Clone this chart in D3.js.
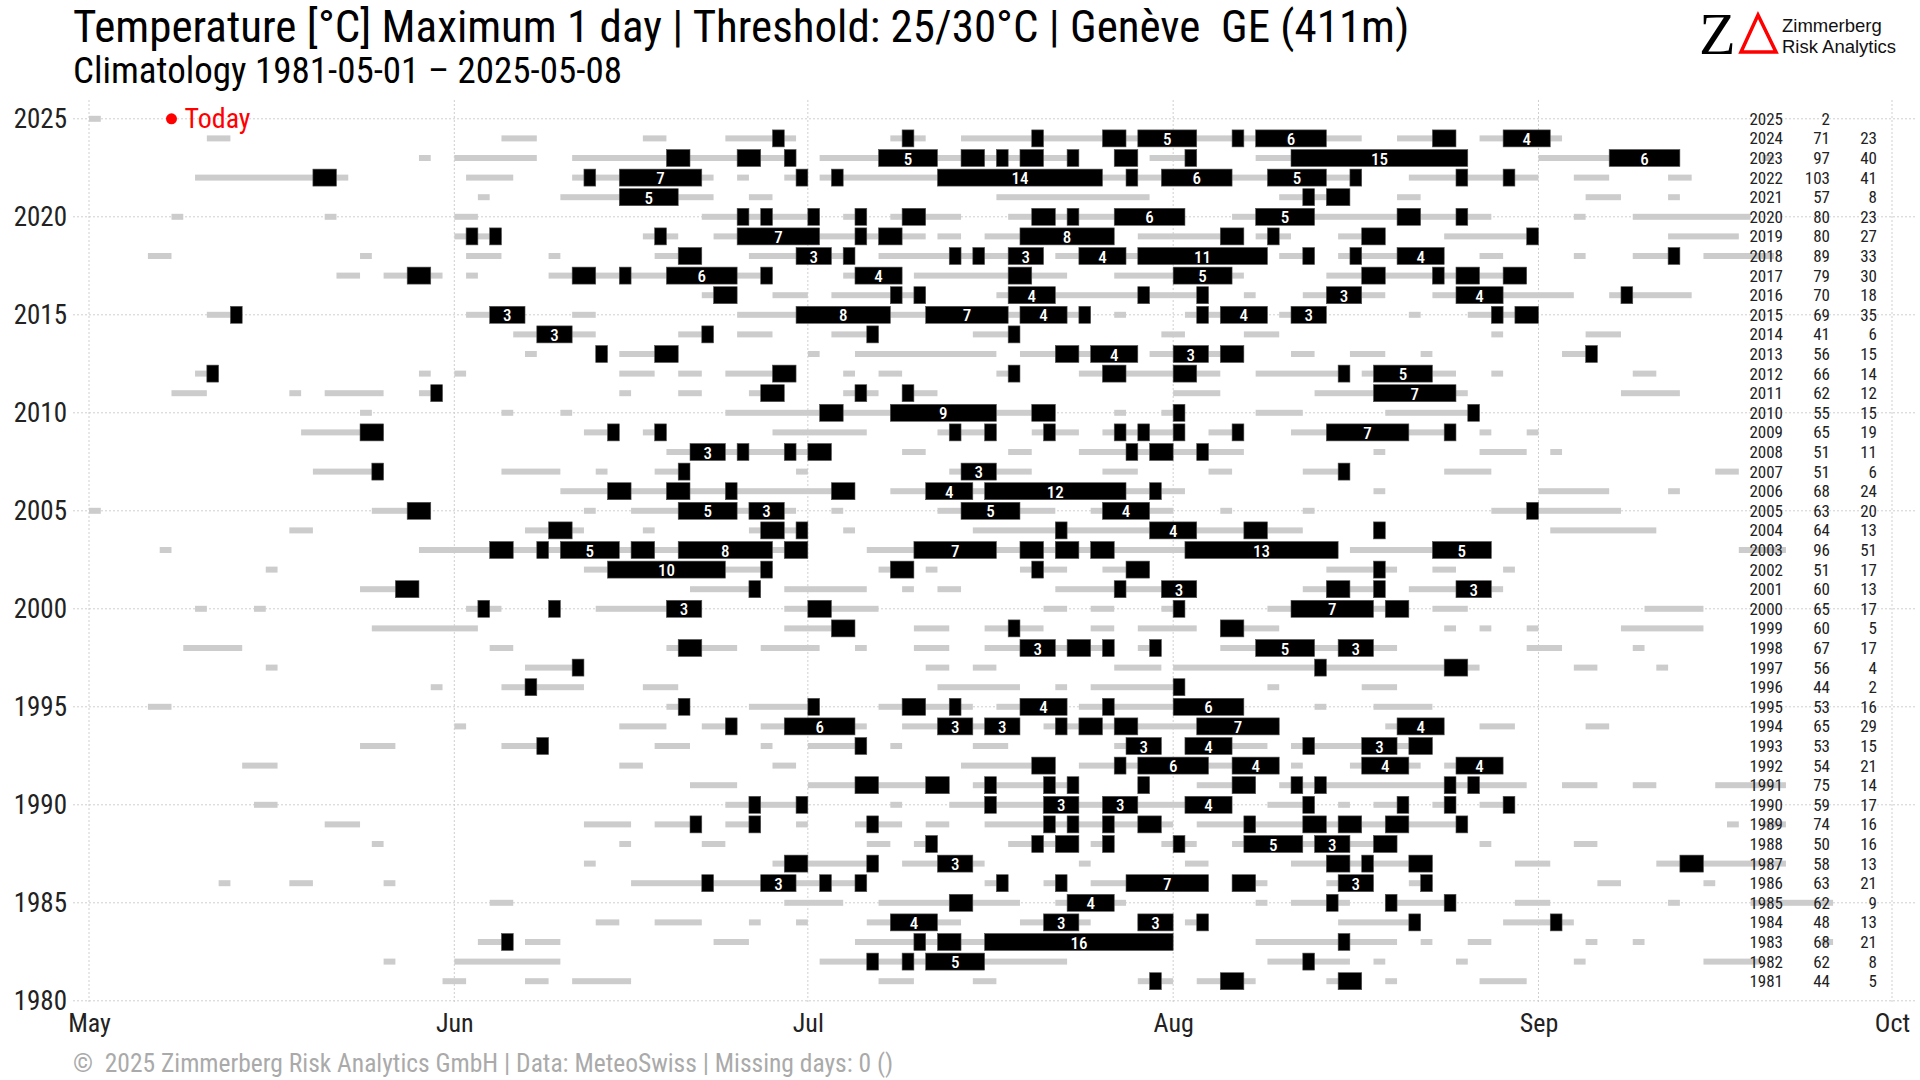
<!DOCTYPE html>
<html>
<head>
<meta charset="utf-8">
<script src="https://cdn.jsdelivr.net/npm/d3@7"></script>
<style>
  html, body { margin: 0; padding: 0; background: #fff; }
  svg { display: block; }
  text.pre { white-space: pre; }
</style>
</head>
<body>
<svg id="chart" width="1920" height="1080"></svg>
<script>
// ---------- data ----------
const titleText = "Temperature [°C] Maximum 1 day | Threshold: 25/30°C | Genève  GE (411m)";
const subtitleText = "Climatology 1981-05-01 \u2013 2025-05-08";
const footerText = "\u00A9  2025 Zimmerberg Risk Analytics GmbH | Data: MeteoSwiss | Missing days: 0 ()";

// day offsets counted from 1 May
const monthStarts = [0, 31, 61, 92, 123, 153];
const monthLabels = ["May", "Jun", "Jul", "Aug", "Sep", "Oct"];
const yearTicks = [1980, 1985, 1990, 1995, 2000, 2005, 2010, 2015, 2020, 2025];
const todayYear = 2025;
const todayDay = 7; // 8 May

const tableYears = [2025,2024,2023,2022,2021,2020,2019,2018,2017,2016,2015,2014,2013,2012,2011,2010,2009,2008,2007,2006,2005,2004,2003,2002,2001,2000,1999,1998,1997,1996,1995,1994,1993,1992,1991,1990,1989,1988,1987,1986,1985,1984,1983,1982,1981];
const days25 = [2,71,97,103,57,80,80,89,79,70,69,41,56,66,62,55,65,51,51,68,63,64,96,51,60,65,60,67,56,44,53,65,53,54,75,59,74,50,58,63,62,48,68,62,44];
const days30 = [null,23,40,41,8,23,27,33,30,18,35,6,15,14,12,15,19,11,6,24,20,13,51,17,13,17,5,17,4,2,16,29,15,21,14,17,16,16,13,21,9,13,21,8,5];

// runs of days >= 25 °C : [year, first day offset, length]
const runs25 = [
  [2025,0,1],
  [2024,10,2],[2024,35,3],[2024,47,2],[2024,54,6],[2024,68,3],[2024,74,34],[2024,111,5],[2024,118,7],
  [2023,28,1],[2023,31,7],[2023,41,19],[2023,62,22],[2023,87,2],[2023,90,4],[2023,99,18],[2023,123,12],[2023,142,1],
  [2022,9,13],[2022,32,4],[2022,41,12],[2022,55,1],[2022,59,2],[2022,62,46],[2022,112,11],[2022,126,3],[2022,134,2],
  [2021,33,1],[2021,40,13],[2021,56,2],[2021,77,13],[2021,101,6],[2021,111,2],[2021,127,3],[2021,134,1],
  [2020,7,1],[2020,20,1],[2020,31,2],[2020,52,10],[2020,64,2],[2020,68,6],[2020,78,15],[2020,97,22],[2020,126,1],[2020,131,10],
  [2019,31,4],[2019,47,3],[2019,53,18],[2019,72,2],[2019,76,11],[2019,89,9],[2019,99,3],[2019,106,4],[2019,115,8],[2019,134,6],
  [2018,5,2],[2018,23,1],[2018,32,3],[2018,39,1],[2018,48,4],[2018,56,9],[2018,67,14],[2018,82,18],[2018,101,3],[2018,106,9],[2018,118,2],[2018,126,1],[2018,131,4],[2018,137,6],
  [2017,21,2],[2017,25,5],[2017,32,1],[2017,39,19],[2017,64,5],[2017,70,13],[2017,87,11],[2017,105,17],
  [2016,52,3],[2016,58,3],[2016,63,8],[2016,77,18],[2016,98,1],[2016,103,7],[2016,114,12],[2016,129,7],
  [2015,10,3],[2015,32,5],[2015,41,2],[2015,55,30],[2015,87,1],[2015,93,7],[2015,101,4],[2015,112,1],[2015,117,6],
  [2014,36,7],[2014,50,3],[2014,55,3],[2014,63,4],[2014,75,4],[2014,91,2],[2014,98,3],[2014,119,1],[2014,127,3],
  [2013,37,1],[2013,43,1],[2013,45,5],[2013,61,1],[2013,65,12],[2013,79,10],[2013,90,8],[2013,102,2],[2013,107,3],[2013,113,1],[2013,125,3],
  [2012,9,2],[2012,28,1],[2012,31,1],[2012,45,3],[2012,50,2],[2012,54,6],[2012,64,1],[2012,67,2],[2012,77,2],[2012,84,12],[2012,99,8],[2012,108,8],[2012,119,1],[2012,131,2],
  [2011,7,3],[2011,17,1],[2011,20,5],[2011,28,2],[2011,45,1],[2011,50,2],[2011,56,3],[2011,64,3],[2011,69,3],[2011,92,4],[2011,104,13],[2011,130,5],
  [2010,23,1],[2010,35,1],[2010,40,1],[2010,54,28],[2010,87,1],[2010,91,2],[2010,99,4],[2010,110,8],
  [2009,18,7],[2009,42,3],[2009,47,2],[2009,58,8],[2009,72,5],[2009,80,4],[2009,86,7],[2009,95,3],[2009,102,14],[2009,118,1],[2009,122,1],
  [2008,49,14],[2008,69,2],[2008,78,2],[2008,84,14],[2008,109,1],[2008,118,4],[2008,124,1],
  [2007,19,6],[2007,35,5],[2007,43,1],[2007,48,3],[2007,60,1],[2007,73,7],[2007,86,3],[2007,95,2],[2007,103,4],[2007,115,4],[2007,138,2],
  [2006,40,25],[2006,68,25],[2006,109,1],[2006,123,6],[2006,134,1],
  [2005,0,1],[2005,24,5],[2005,42,1],[2005,46,14],[2005,63,1],[2005,72,10],[2005,85,7],[2005,96,1],[2005,103,1],[2005,119,11],
  [2004,17,2],[2004,37,5],[2004,47,1],[2004,56,5],[2004,64,1],[2004,75,28],[2004,109,1],[2004,124,9],
  [2003,6,1],[2003,28,33],[2003,66,40],[2003,107,12],[2003,140,4],
  [2002,15,1],[2002,42,16],[2002,67,3],[2002,71,1],[2002,79,4],[2002,86,4],[2002,105,6],[2002,114,2],[2002,120,1],
  [2001,23,5],[2001,51,6],[2001,59,7],[2001,69,1],[2001,72,2],[2001,82,12],[2001,103,7],[2001,112,8],
  [2000,9,1],[2000,14,1],[2000,32,3],[2000,39,1],[2000,43,9],[2000,59,8],[2000,81,2],[2000,85,2],[2000,91,2],[2000,100,12],[2000,114,3],[2000,132,5],
  [1999,24,9],[1999,59,6],[1999,70,3],[1999,76,5],[1999,85,2],[1999,89,5],[1999,96,5],[1999,115,1],[1999,118,1],[1999,122,1],[1999,130,7],
  [1998,8,5],[1998,34,2],[1998,49,6],[1998,57,5],[1998,65,1],[1998,70,3],[1998,76,11],[1998,89,2],[1998,96,15],[1998,122,3],[1998,131,1],
  [1997,15,1],[1997,37,5],[1997,71,2],[1997,75,2],[1997,87,4],[1997,92,26],[1997,126,2],[1997,133,1],
  [1996,29,1],[1996,35,7],[1996,47,3],[1996,72,7],[1996,82,1],[1996,85,8],[1996,100,1],[1996,108,3],
  [1995,5,2],[1995,49,2],[1995,56,6],[1995,67,8],[1995,77,6],[1995,84,14],[1995,104,1],[1995,109,5],
  [1994,31,1],[1994,45,4],[1994,52,3],[1994,57,9],[1994,69,10],[1994,81,20],[1994,110,5],[1994,118,3],[1994,127,2],
  [1993,23,3],[1993,35,4],[1993,48,3],[1993,57,1],[1993,61,5],[1993,68,1],[1993,75,3],[1993,87,4],[1993,93,7],[1993,102,12],
  [1992,13,3],[1992,45,2],[1992,58,2],[1992,74,8],[1992,84,17],[1992,102,1],[1992,107,6],[1992,115,5],
  [1991,51,4],[1991,61,12],[1991,75,9],[1991,89,1],[1991,94,5],[1991,101,21],[1991,125,3],[1991,131,2],[1991,138,6],
  [1990,14,2],[1990,54,7],[1990,68,1],[1990,73,24],[1990,100,4],[1990,106,1],[1990,109,3],[1990,114,2],[1990,118,3],
  [1989,20,3],[1989,42,4],[1989,48,4],[1989,54,3],[1989,60,1],[1989,65,4],[1989,71,2],[1989,76,16],[1989,94,23],[1989,139,1],[1989,142,2],
  [1988,24,1],[1988,45,1],[1988,52,2],[1988,66,2],[1988,70,2],[1988,78,6],[1988,85,2],[1988,91,3],[1988,97,14],[1988,118,1],[1988,126,2],
  [1987,42,1],[1987,58,9],[1987,69,7],[1987,84,1],[1987,93,2],[1987,102,12],[1987,121,3],[1987,133,11],
  [1986,11,1],[1986,17,2],[1986,25,1],[1986,46,20],[1986,76,2],[1986,81,2],[1986,85,10],[1986,97,3],[1986,105,4],[1986,112,2],[1986,128,2],[1986,137,1],
  [1985,34,2],[1985,59,5],[1985,67,12],[1985,82,6],[1985,99,1],[1985,102,5],[1985,110,6],[1985,121,3],[1985,134,1],[1985,141,7],
  [1984,43,2],[1984,48,4],[1984,56,1],[1984,60,1],[1984,66,8],[1984,79,6],[1984,89,3],[1984,93,2],[1984,106,7],[1984,120,6],
  [1983,33,3],[1983,37,3],[1983,53,3],[1983,65,27],[1983,99,12],[1983,113,1],[1983,117,2],[1983,127,1],[1983,131,1],[1983,147,1],
  [1982,25,1],[1982,31,9],[1982,62,21],[1982,100,7],[1982,109,1],[1982,116,1],[1982,126,1],[1982,137,5],
  [1981,30,2],[1981,37,2],[1981,41,5],[1981,67,3],[1981,75,2],[1981,89,3],[1981,94,5],[1981,105,3],[1981,110,1],[1981,118,4]
];

// runs of days >= 30 °C : [year, first day offset, length]
const runs30 = [
  [2024,58,1],[2024,69,1],[2024,80,1],[2024,86,2],[2024,89,5],[2024,97,1],[2024,99,6],[2024,114,2],[2024,120,4],
  [2023,49,2],[2023,55,2],[2023,59,1],[2023,67,5],[2023,74,2],[2023,77,1],[2023,79,2],[2023,83,1],[2023,87,2],[2023,93,1],[2023,102,15],[2023,129,6],
  [2022,19,2],[2022,42,1],[2022,45,7],[2022,60,1],[2022,63,1],[2022,72,14],[2022,88,1],[2022,91,6],[2022,100,5],[2022,107,1],[2022,116,1],[2022,120,1],
  [2021,45,5],[2021,103,1],[2021,105,2],
  [2020,55,1],[2020,57,1],[2020,61,1],[2020,65,1],[2020,69,2],[2020,80,2],[2020,83,1],[2020,87,6],[2020,99,5],[2020,111,2],[2020,116,1],
  [2019,32,1],[2019,34,1],[2019,48,1],[2019,55,7],[2019,65,1],[2019,67,2],[2019,79,8],[2019,96,2],[2019,100,1],[2019,108,2],[2019,122,1],
  [2018,50,2],[2018,60,3],[2018,64,1],[2018,73,1],[2018,75,1],[2018,78,3],[2018,84,4],[2018,89,11],[2018,103,1],[2018,107,1],[2018,111,4],[2018,134,1],
  [2017,27,2],[2017,41,2],[2017,45,1],[2017,49,6],[2017,57,1],[2017,65,4],[2017,78,2],[2017,92,5],[2017,108,2],[2017,114,1],[2017,116,2],[2017,120,2],
  [2016,53,2],[2016,68,1],[2016,70,1],[2016,78,4],[2016,89,1],[2016,94,1],[2016,105,3],[2016,116,4],[2016,130,1],
  [2015,12,1],[2015,34,3],[2015,60,8],[2015,71,7],[2015,79,4],[2015,84,1],[2015,94,1],[2015,96,4],[2015,102,3],[2015,119,1],[2015,121,2],
  [2014,38,3],[2014,52,1],[2014,66,1],[2014,78,1],
  [2013,43,1],[2013,48,2],[2013,82,2],[2013,85,4],[2013,92,3],[2013,96,2],[2013,127,1],
  [2012,10,1],[2012,58,2],[2012,78,1],[2012,86,2],[2012,92,2],[2012,106,1],[2012,109,5],
  [2011,29,1],[2011,57,2],[2011,65,1],[2011,69,1],[2011,109,7],
  [2010,62,2],[2010,68,9],[2010,80,2],[2010,92,1],[2010,117,1],
  [2009,23,2],[2009,44,1],[2009,48,1],[2009,73,1],[2009,76,1],[2009,81,1],[2009,87,1],[2009,89,1],[2009,92,1],[2009,97,1],[2009,105,7],[2009,115,1],
  [2008,51,3],[2008,55,1],[2008,59,1],[2008,61,2],[2008,88,1],[2008,90,2],[2008,94,1],
  [2007,24,1],[2007,50,1],[2007,74,3],[2007,106,1],
  [2006,44,2],[2006,49,2],[2006,54,1],[2006,63,2],[2006,71,4],[2006,76,12],[2006,90,1],
  [2005,27,2],[2005,50,5],[2005,56,3],[2005,74,5],[2005,86,4],[2005,122,1],
  [2004,39,2],[2004,57,2],[2004,60,1],[2004,82,1],[2004,90,4],[2004,98,2],[2004,109,1],
  [2003,34,2],[2003,38,1],[2003,40,5],[2003,46,2],[2003,50,8],[2003,59,2],[2003,70,7],[2003,79,2],[2003,82,2],[2003,85,2],[2003,93,13],[2003,114,5],
  [2002,44,10],[2002,57,1],[2002,68,2],[2002,80,1],[2002,88,2],[2002,109,1],
  [2001,26,2],[2001,56,1],[2001,87,1],[2001,91,3],[2001,105,2],[2001,109,1],[2001,116,3],
  [2000,33,1],[2000,39,1],[2000,49,3],[2000,61,2],[2000,92,1],[2000,102,7],[2000,110,2],
  [1999,63,2],[1999,78,1],[1999,96,2],
  [1998,50,2],[1998,79,3],[1998,83,2],[1998,86,1],[1998,90,1],[1998,99,5],[1998,106,3],
  [1997,41,1],[1997,104,1],[1997,115,2],
  [1996,37,1],[1996,92,1],
  [1995,50,1],[1995,61,1],[1995,69,2],[1995,73,1],[1995,79,4],[1995,86,1],[1995,92,6],
  [1994,54,1],[1994,59,6],[1994,72,3],[1994,76,3],[1994,82,1],[1994,84,2],[1994,87,2],[1994,94,7],[1994,111,4],
  [1993,38,1],[1993,65,1],[1993,88,3],[1993,93,4],[1993,103,1],[1993,108,3],[1993,112,2],
  [1992,80,2],[1992,87,1],[1992,89,6],[1992,97,4],[1992,108,4],[1992,116,4],
  [1991,65,2],[1991,71,2],[1991,76,1],[1991,81,1],[1991,83,1],[1991,89,1],[1991,97,2],[1991,102,1],[1991,104,1],[1991,115,1],[1991,117,1],
  [1990,56,1],[1990,60,1],[1990,76,1],[1990,81,3],[1990,86,3],[1990,93,4],[1990,103,1],[1990,111,1],[1990,115,1],[1990,120,1],
  [1989,51,1],[1989,56,1],[1989,66,1],[1989,81,1],[1989,83,1],[1989,86,1],[1989,89,2],[1989,98,1],[1989,103,2],[1989,106,2],[1989,110,2],[1989,116,1],
  [1988,71,1],[1988,80,1],[1988,82,2],[1988,86,1],[1988,92,1],[1988,98,5],[1988,104,3],[1988,109,2],
  [1987,59,2],[1987,66,1],[1987,72,3],[1987,105,2],[1987,108,1],[1987,112,2],[1987,135,2],
  [1986,52,1],[1986,57,3],[1986,62,1],[1986,65,1],[1986,77,1],[1986,82,1],[1986,88,7],[1986,97,2],[1986,106,3],[1986,113,1],
  [1985,73,2],[1985,83,4],[1985,105,1],[1985,110,1],[1985,115,1],
  [1984,68,4],[1984,81,3],[1984,89,3],[1984,94,1],[1984,112,1],[1984,124,1],
  [1983,35,1],[1983,70,1],[1983,72,2],[1983,76,16],[1983,106,1],
  [1982,66,1],[1982,69,1],[1982,71,5],[1982,103,1],
  [1981,90,1],[1981,96,2],[1981,106,2]
];

// ---------- drawing ----------
const svg = d3.select("#chart");
const FONT = '"Roboto Condensed", "Liberation Sans Narrow", "DejaVu Sans Condensed", Roboto, sans-serif';

const x = d3.scaleLinear().domain([0, 153]).range([89, 1892]);
const y = d3.scaleLinear().domain([1980, 2025]).range([1000.8, 118.8]);

const gridColor = "#cfcfcf";

// grid
const grid = svg.append("g");
grid.selectAll("line.h").data(yearTicks).join("line")
  .attr("x1", 73).attr("x2", 1915)
  .attr("y1", d => y(d)).attr("y2", d => y(d))
  .attr("stroke", gridColor).attr("stroke-width", 1).attr("stroke-dasharray", "2,2");
grid.selectAll("line.v").data(monthStarts).join("line")
  .attr("x1", d => x(d)).attr("x2", d => x(d))
  .attr("y1", 100).attr("y2", 1003)
  .attr("stroke", gridColor).attr("stroke-width", 1).attr("stroke-dasharray", "2,2");

// axes (labels only)
const xAxis = d3.axisBottom(x).tickValues(monthStarts).tickFormat((d, i) => monthLabels[i]).tickSize(0).tickPadding(0);
const gx = svg.append("g").attr("transform", "translate(0,1014)").call(xAxis);
gx.select(".domain").remove();
gx.selectAll("text").attr("font-family", FONT).attr("font-size", 26).attr("fill", "#222").attr("dy", "0.71em");

const yAxis = d3.axisLeft(y).tickValues(yearTicks).tickFormat(d3.format("d")).tickSize(0).tickPadding(6);
const gy = svg.append("g").attr("transform", "translate(73,0)").call(yAxis);
gy.select(".domain").remove();
gy.selectAll("text").attr("font-family", FONT).attr("font-size", 27).attr("fill", "#222");

// bars >= 25
const bars = svg.append("g");
bars.selectAll("rect.g25").data(runs25).join("rect")
  .attr("x", d => x(d[1])).attr("width", d => x(d[1] + d[2]) - x(d[1]))
  .attr("y", d => y(d[0]) - 3).attr("height", 6)
  .attr("fill", "#cccccc");

// bars >= 30
bars.selectAll("rect.b30").data(runs30).join("rect")
  .attr("x", d => x(d[1])).attr("width", d => x(d[1] + d[2]) - x(d[1]))
  .attr("y", d => y(d[0]) - 8.5).attr("height", 17)
  .attr("fill", "#000").attr("stroke", "#555").attr("stroke-width", 0.6);

bars.selectAll("text.lab").data(runs30.filter(d => d[2] >= 3)).join("text")
  .attr("x", d => (x(d[1]) + x(d[1] + d[2])) / 2).attr("y", d => y(d[0]) + 0.5)
  .attr("text-anchor", "middle").attr("dominant-baseline", "central")
  .attr("font-family", FONT).attr("font-size", 17).attr("font-weight", 500).attr("fill", "#fff")
  .text(d => d[2]);

// table on the right
const tbl = svg.append("g").attr("font-family", FONT).attr("font-size", 17).attr("fill", "#222");
tbl.selectAll("text.yr").data(tableYears).join("text")
  .attr("x", 1783).attr("y", d => y(d)).attr("text-anchor", "end").attr("dominant-baseline", "central")
  .text(d => d);
tbl.selectAll("text.c25").data(days25).join("text")
  .attr("x", 1830).attr("y", (d, i) => y(tableYears[i])).attr("text-anchor", "end").attr("dominant-baseline", "central")
  .text(d => d);
tbl.selectAll("text.c30").data(days30).join("text")
  .attr("x", 1877).attr("y", (d, i) => y(tableYears[i])).attr("text-anchor", "end").attr("dominant-baseline", "central")
  .text(d => d == null ? "" : d);

// today marker
svg.append("circle").attr("cx", x(todayDay)).attr("cy", y(todayYear)).attr("r", 5.5).attr("fill", "#ff0000");
svg.append("text").attr("x", x(todayDay) + 13).attr("y", y(todayYear)).attr("dominant-baseline", "central")
  .attr("font-family", FONT).attr("font-size", 28).attr("fill", "#ff0000").text("Today");

// titles
svg.append("text").attr("class", "pre").attr("x", 73).attr("y", 42).attr("font-family", FONT).attr("font-size", 45).attr("fill", "#000").text(titleText);
svg.append("text").attr("class", "pre").attr("x", 73).attr("y", 83).attr("font-family", FONT).attr("font-size", 37).attr("fill", "#000").text(subtitleText);
svg.append("text").attr("class", "pre").attr("x", 73).attr("y", 1072).attr("font-family", FONT).attr("font-size", 25.5).attr("fill", "#aaaaaa").text(footerText);

// logo
const logo = svg.append("g");
logo.append("text").attr("x", 1699).attr("y", 54).attr("font-family", '"Liberation Serif", serif').attr("font-size", 60).attr("fill", "#000").text("Z");
logo.append("path").attr("d", "M1758,15 L1776,52 L1741,52 Z").attr("fill", "none").attr("stroke", "#ff0000").attr("stroke-width", 3.5);
logo.append("text").attr("x", 1782).attr("y", 32).attr("font-family", '"Liberation Sans", Arial, sans-serif').attr("font-size", 18.5).attr("fill", "#111").text("Zimmerberg");
logo.append("text").attr("x", 1782).attr("y", 53).attr("font-family", '"Liberation Sans", Arial, sans-serif').attr("font-size", 18.5).attr("fill", "#111").text("Risk Analytics");
</script>
</body>
</html>
